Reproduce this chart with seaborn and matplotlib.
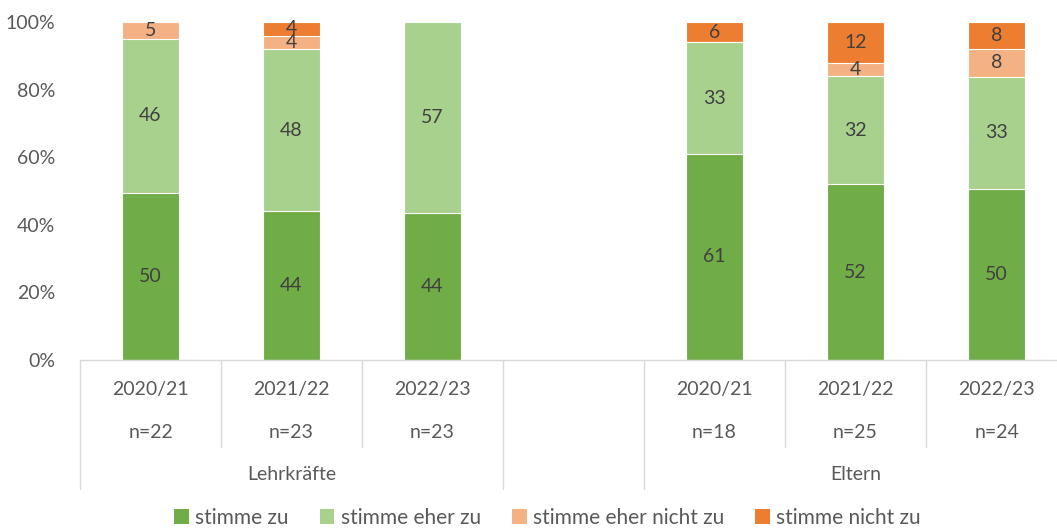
import numpy as np
import pandas as pd
import matplotlib
matplotlib.use("Agg")
import matplotlib.pyplot as plt
import matplotlib.transforms as mtransforms
from matplotlib.patches import Patch
import seaborn as sns

# data (labels are the rounded percentages)
slots = ["L1", "L2", "L3", "gap", "E1", "E2", "E3"]
years = ["2020/21", "2021/22", "2022/23", "", "2020/21", "2021/22", "2022/23"]
n_labels = ["n=22", "n=23", "n=23", "", "n=18", "n=25", "n=24"]
groups = ["Lehrkräfte", "", "Eltern"]
series = ["stimme zu", "stimme eher zu", "stimme eher nicht zu", "stimme nicht zu"]
stimme_zu = [50, 44, 44, None, 61, 52, 50]
stimme_eher_zu = [46, 48, 57, None, 33, 32, 33]
stimme_eher_nicht_zu = [5, 4, 0, None, 0, 4, 8]
stimme_nicht_zu = [0, 4, 0, None, 6, 12, 8]
colors = ["#70AD47", "#A9D18E", "#F4B183", "#ED7D31"]

sns.set_theme(style="white")
plt.rcParams["font.family"] = ["Lato", "DejaVu Sans"]
FS = 14

rows = []
for i, s in enumerate(slots):
    if s == "gap":
        continue
    vals = [stimme_zu[i], stimme_eher_zu[i], stimme_eher_nicht_zu[i], stimme_nicht_zu[i]]
    tot = sum(vals)
    cum = 0
    for name, v in zip(series, vals):
        cum += v / tot * 100
        rows.append({"slot": s, "series": name, "value": v, "cum": cum})
df = pd.DataFrame(rows)

fig = plt.figure(figsize=(10.57, 5.28), dpi=100)
ax = fig.add_axes([80 / 1057, 1 - 360 / 528, 987 / 1057, 338 / 528])

# draw from the top series down so lower stacks overlap higher ones
for name, col in reversed(list(zip(series, colors))):
    sub = df[df["series"] == name]
    sns.barplot(data=sub, x="slot", y="cum", order=slots, color=col,
                width=0.4, edgecolor="white", linewidth=0.8, ax=ax,
                saturation=1, errorbar=None)

# value labels in the middle of each segment
for s in slots:
    sub = df[df["slot"] == s]
    prev = 0
    for _, r in sub.iterrows():
        if r["value"] > 0:
            ax.text(slots.index(s), (prev + r["cum"]) / 2, f"{r['value']:d}",
                    ha="center", va="center", fontsize=FS, color="#404040")
        prev = r["cum"]

ax.set_ylim(0, 100)
ax.set_xlim(-0.5, 6.5)
ax.set_yticks(range(0, 101, 20))
ax.set_yticklabels([f"{t}%" for t in range(0, 101, 20)], fontsize=FS, color="#595959")
ax.tick_params(axis="y", length=0, pad=18)
ax.set_xticks([])
ax.set_xlabel("")
ax.set_ylabel("")
for sp in ["left", "right", "top"]:
    ax.spines[sp].set_visible(False)
ax.spines["bottom"].set_color("#D9D9D9")
ax.spines["bottom"].set_linewidth(1)

# hierarchical category axis below the plot
trans = mtransforms.blended_transform_factory(ax.transData, fig.transFigure)
y0 = 1 - 360 / 528
y_short = 1 - 447 / 528
y_long = 1 - 489 / 528
for b in np.arange(-0.5, 7, 1):
    if b in (-0.5, 2.5, 3.5, 6.5):
        ax.plot([b, b], [y0, y_long], transform=trans, color="#D9D9D9", lw=1, clip_on=False)
    else:
        ax.plot([b, b], [y0, y_short], transform=trans, color="#D9D9D9", lw=1, clip_on=False)
for i in range(len(slots)):
    ax.text(i, 1 - 390 / 528, years[i], transform=trans, ha="center", va="center",
            fontsize=FS, color="#595959")
    ax.text(i, 1 - 432 / 528, n_labels[i], transform=trans, ha="center", va="center",
            fontsize=FS, color="#595959")
for g, xc in zip(groups, [1, 3, 5]):
    ax.text(xc, 1 - 475 / 528, g, transform=trans, ha="center", va="center",
            fontsize=FS, color="#595959")

handles = [Patch(facecolor=c, edgecolor="none", label=l) for c, l in zip(colors, series)]
fig.legend(handles=handles, loc="center", bbox_to_anchor=(0.518, 1 - 518 / 528), ncol=4,
           frameon=False, fontsize=15, handlelength=0.7, handleheight=0.7,
           handletextpad=0.3, columnspacing=1.5, labelcolor="#595959")

fig.savefig("out.png", dpi=100)
